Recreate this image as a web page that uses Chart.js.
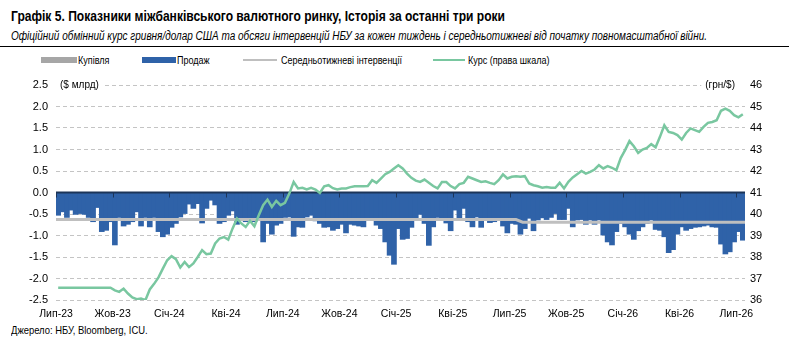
<!DOCTYPE html>
<html lang="uk">
<head>
<meta charset="utf-8">
<script src="https://cdn.jsdelivr.net/npm/chart.js@4.4.1/dist/chart.umd.min.js"></script>
<style>
  html, body { margin: 0; padding: 0; background: #fff; }
  #wrap { position: relative; width: 800px; height: 352px; overflow: hidden;
          font-family: "Liberation Sans", Arial, sans-serif; color: #000; }
  .narrow { display: inline-block; transform-origin: left center; transform: scaleX(0.82); white-space: nowrap; }
  #title { position: absolute; left: 11px; top: 8px; font-size: 14.7px; font-weight: bold; white-space: nowrap; }
  #subtitle { position: absolute; left: 11px; top: 29px; font-size: 12px; font-style: italic; white-space: nowrap; }
  #rule { position: absolute; left: 0; top: 46px; width: 789px; height: 1px; background: #000; }
  .lg { position: absolute; top: 54px; height: 12px; font-size: 11px; display: flex; align-items: center; white-space: nowrap; }
  .sw { margin-right: 1px; flex: none; }
  #source { position: absolute; left: 11px; top: 324px; font-size: 11.5px; white-space: nowrap; }
  #chartBox { position: absolute; left: 0; top: 66px; width: 800px; height: 256px; }
</style>
</head>
<body>
<div id="wrap">
  <div id="title"><span class="narrow" data-fit="494">Графік 5. Показники міжбанківського валютного ринку, Історія за останні три роки</span></div>
  <div id="subtitle"><span class="narrow" data-fit="696">Офіційний обмінний курс гривня/долар США та обсяги інтервенцій НБУ за кожен тиждень і середньотижневі від початку повномасштабної війни.</span></div>
  <div id="rule"></div>
  <div class="lg" style="left:41px"><span class="sw" style="width:36px;height:6px;background:#a6a6a6"></span><span class="narrow">Купівля</span></div>
  <div class="lg" style="left:142px"><span class="sw" style="width:34px;height:6px;background:#2f62a8"></span><span class="narrow">Продаж</span></div>
  <div class="lg" style="left:243px"><span class="sw" style="width:34px;height:2px;background:#bfbfbf;margin-right:4px"></span><span class="narrow">Середньотижневі інтервенції</span></div>
  <div class="lg" style="left:433px"><span class="sw" style="width:32px;height:2px;background:#79c7a0;margin-right:3px"></span><span class="narrow">Курс (права шкала)</span></div>
  <div id="chartBox"><canvas id="fxChart"></canvas></div>
  <div id="source"><span class="narrow">Джерело: НБУ, Bloomberg, ICU.</span></div>
</div>
<script>
// quarter ticks (week index from start of the window)
const quarterLabels = ['Лип-23', 'Жов-23', 'Січ-24', 'Кві-24', 'Лип-24', 'Жов-24', 'Січ-25',
  'Кві-25', 'Лип-25', 'Жов-25', 'Січ-26', 'Кві-26', 'Лип-26'];
const quarterWeeks = [0, 13, 26, 39, 52, 65, 78, 91, 104, 117, 130, 143, 156];

// weekly NBU sales, $ bn (negative = sold)
const sales = [
  -0.53, -0.45, -0.58, -0.41, -0.51, -0.49, -0.51, -0.58, -0.68, -0.35, -0.91, -0.88, -0.68, -1.22, -0.58, -0.78,
  -0.74, -0.68, -0.45, -0.78, -0.58, -0.80, -0.58, -0.91, -1.03, -0.97, -0.81, -0.72, -0.57, -0.49, -0.27,
  -0.37, -0.26, -0.71, -0.37, -0.18, -0.29, -0.72, -0.68, -0.53, -0.43, -0.74, -0.64, -0.68, -0.63, -0.68, -0.60,
  -1.15, -0.72, -0.97, -0.76, -0.72, -0.58, -0.57, -1.02, -0.80, -0.81, -0.57, -0.53, -0.66, -0.72, -0.81, -0.80,
  -0.88, -0.84, -0.74, -0.94, -0.74, -0.76, -0.78, -0.80, -0.63, -0.64, -0.76, -0.84, -1.15, -1.46, -1.67, -0.84,
  -1.09, -1.07, -0.81, -0.60, -0.51, -0.72, -1.23, -0.80, -0.58, -0.60, -0.71, -0.89, -0.41, -0.59, -0.37, -0.68,
  -0.80, -0.57, -0.81, -0.64, -0.70, -0.68, -0.60, -0.78, -0.94, -0.72, -0.74, -0.97, -0.84, -0.60, -0.89, -0.64,
  -0.59, -0.63, -0.58, -0.49, -0.63, -0.63, -0.37, -0.80, -0.64, -0.63, -0.74, -0.64, -0.74, -0.64, -0.99, -1.15,
  -1.22, -0.91, -0.72, -0.80, -0.97, -1.09, -0.89, -0.80, -0.72, -0.64, -0.86, -0.88, -1.03, -1.40, -1.33, -0.97,
  -0.80, -0.88, -0.84, -0.81, -0.80, -0.78, -0.76, -0.80, -0.81, -1.20, -1.43, -1.38, -1.15, -0.91, -1.11
];
// weekly purchases: none in the window
const buys = [];

// average weekly interventions since the start of the war (break points)
const avgWeeks = [0, 105.5, 107, 158];
const avgValues = [-0.63, -0.63, -0.69, -0.69];

// official UAH/USD rate, weekly
const rate = [
  36.57, 36.57, 36.57, 36.57, 36.57, 36.57, 36.57, 36.57, 36.57, 36.57, 36.57, 36.57, 36.57, 36.45, 36.38, 36.53,
  36.30, 36.12, 36.04, 36.07, 35.99, 36.49, 36.75, 37.05, 37.46, 37.85, 38.04, 37.90, 37.51, 37.77, 37.53, 37.70,
  38.00, 38.32, 38.13, 38.16, 38.63, 38.86, 38.93, 38.81, 39.33, 39.79, 39.56, 39.40, 39.68, 39.43, 39.94, 40.41,
  40.67, 40.33, 40.61, 40.41, 40.52, 40.95, 41.49, 41.19, 41.22, 41.14, 41.22, 41.14, 40.98, 41.29, 41.34, 41.20,
  41.14, 41.19, 41.19, 41.25, 41.29, 41.29, 41.29, 41.30, 41.57, 41.45, 41.65, 41.85, 41.96, 42.12, 42.27, 42.12,
  41.88, 41.68, 41.55, 41.49, 41.60, 41.45, 41.30, 41.19, 41.49, 41.49, 41.30, 41.19, 41.39, 41.45, 41.73, 41.65,
  41.57, 41.49, 41.52, 41.45, 41.39, 41.57, 41.84, 41.65, 41.73, 41.76, 41.73, 41.76, 41.42, 41.34, 41.29, 41.22,
  41.26, 41.22, 41.22, 41.45, 41.19, 41.50, 41.70, 41.85, 42.00, 41.88, 41.96, 42.07, 42.27, 42.12, 42.23, 42.15,
  42.04, 42.60, 42.97, 43.39, 43.15, 42.84, 43.00, 43.07, 43.25, 43.10, 43.59, 44.13, 43.82, 43.77, 43.67, 43.46,
  43.77, 43.98, 43.90, 43.82, 44.05, 44.24, 44.28, 44.36, 44.80, 44.90, 44.80, 44.60, 44.50, 44.64
];

const FONT = '"Liberation Sans", Arial, sans-serif';
const BLUE = '#2f62a8';
const NAVY = '#1c3559';

// squeeze long headings to the width they take in the original
document.querySelectorAll('[data-fit]').forEach(el => {
  el.style.transform = 'none';
  const w = el.getBoundingClientRect().width;
  el.style.transform = 'scaleX(' + (+el.dataset.fit / w) + ')';
});

// zero line with quarter tick marks, drawn right after the bars
const zeroLine = {
  id: 'zeroLine',
  afterDatasetDraw(chart, args) {
    if (args.index !== 1) return;
    const { ctx, chartArea, scales } = chart;
    const y0 = scales.y.getPixelForValue(0);
    ctx.save();
    ctx.strokeStyle = NAVY;
    ctx.lineWidth = 2;
    ctx.beginPath();
    ctx.moveTo(chartArea.left, y0);
    ctx.lineTo(chartArea.right, y0);
    ctx.stroke();
    ctx.lineWidth = 1;
    quarterWeeks.forEach(w => {
      const x = Math.round(scales.x.getPixelForValue(w)) + 0.5;
      ctx.beginPath();
      ctx.moveTo(x, y0);
      ctx.lineTo(x, y0 + 5);
      ctx.stroke();
    });
    ctx.restore();
  }
};

// unit captions in the top corners
const unitLabels = {
  id: 'unitLabels',
  afterDraw(chart) {
    const { ctx, chartArea } = chart;
    const y = chartArea.top;
    ctx.save();
    ctx.font = '10px ' + FONT;
    ctx.textBaseline = 'middle';
    const left = '($ млрд)';
    const right = '(грн/$)';
    const lw = ctx.measureText(left).width;
    const rw = ctx.measureText(right).width;
    ctx.fillStyle = '#fff';
    ctx.fillRect(chartArea.left, y - 6, lw + 8, 12);
    ctx.fillRect(chartArea.right - rw - 14, y - 6, rw + 14, 12);
    ctx.fillStyle = '#000';
    ctx.textAlign = 'left';
    ctx.fillText(left, chartArea.left + 4, y);
    ctx.textAlign = 'right';
    ctx.fillText(right, chartArea.right - 10, y);
    ctx.restore();
  }
};

new Chart(document.getElementById('fxChart'), {
  type: 'bar',
  data: {
    datasets: [
      {
        label: 'Купівля',
        data: buys.map((v, i) => ({ x: i + 0.5, y: v })),
        backgroundColor: '#a6a6a6',
        barThickness: 5,
        order: 4
      },
      {
        label: 'Продаж',
        data: sales.map((v, i) => ({ x: i + 0.5, y: v })),
        backgroundColor: BLUE,
        borderWidth: 0,
        barThickness: 5,
        grouped: false,
        order: 3
      },
      {
        type: 'line',
        label: 'Середньотижневі інтервенції',
        data: avgWeeks.map((w, i) => ({ x: w, y: avgValues[i] })),
        borderColor: '#bfbfbf',
        borderWidth: 3,
        pointRadius: 0,
        order: 2
      },
      {
        type: 'line',
        label: 'Курс (права шкала)',
        data: rate.map((v, i) => ({ x: i + 0.5, y: v })),
        yAxisID: 'y1',
        borderColor: '#79c7a0',
        borderWidth: 2.5,
        pointRadius: 0,
        tension: 0,
        order: 1
      }
    ]
  },
  options: {
    responsive: true,
    maintainAspectRatio: false,
    animation: false,
    layout: { padding: { top: 19, bottom: 2, left: 0, right: 0 } },
    plugins: {
      legend: { display: false },
      tooltip: { enabled: false }
    },
    scales: {
      x: {
        type: 'linear',
        offset: false,
        min: 0,
        max: sales.length,
        afterFit: scale => { scale.height = 20; },
        grid: { display: false, drawTicks: false, offset: false },
        border: { display: false },
        afterBuildTicks: scale => { scale.ticks = quarterWeeks.map(v => ({ value: v })); },
        ticks: {
          autoSkip: false,
          maxRotation: 0,
          padding: 8,
          color: '#000',
          font: { family: FONT, size: 10.5 },
          callback: v => quarterLabels[quarterWeeks.indexOf(v)]
        }
      },
      y: {
        position: 'left',
        min: -2.5,
        max: 2.5,
        afterFit: scale => { scale.width = 56; },
        grid: { color: '#c4c4c4', lineWidth: 1, drawTicks: false },
        border: { display: false, dash: [4, 3] },
        ticks: {
          stepSize: 0.5,
          padding: 8,
          color: '#000',
          font: { family: FONT, size: 11 },
          callback: v => v.toFixed(1)
        }
      },
      y1: {
        position: 'right',
        min: 36,
        max: 46,
        afterFit: scale => { scale.width = 55; },
        grid: { display: false, drawTicks: false },
        border: { display: false },
        ticks: {
          stepSize: 1,
          padding: 5,
          color: '#000',
          font: { family: FONT, size: 11 }
        }
      }
    }
  },
  plugins: [zeroLine, unitLabels]
});
</script>
</body>
</html>
